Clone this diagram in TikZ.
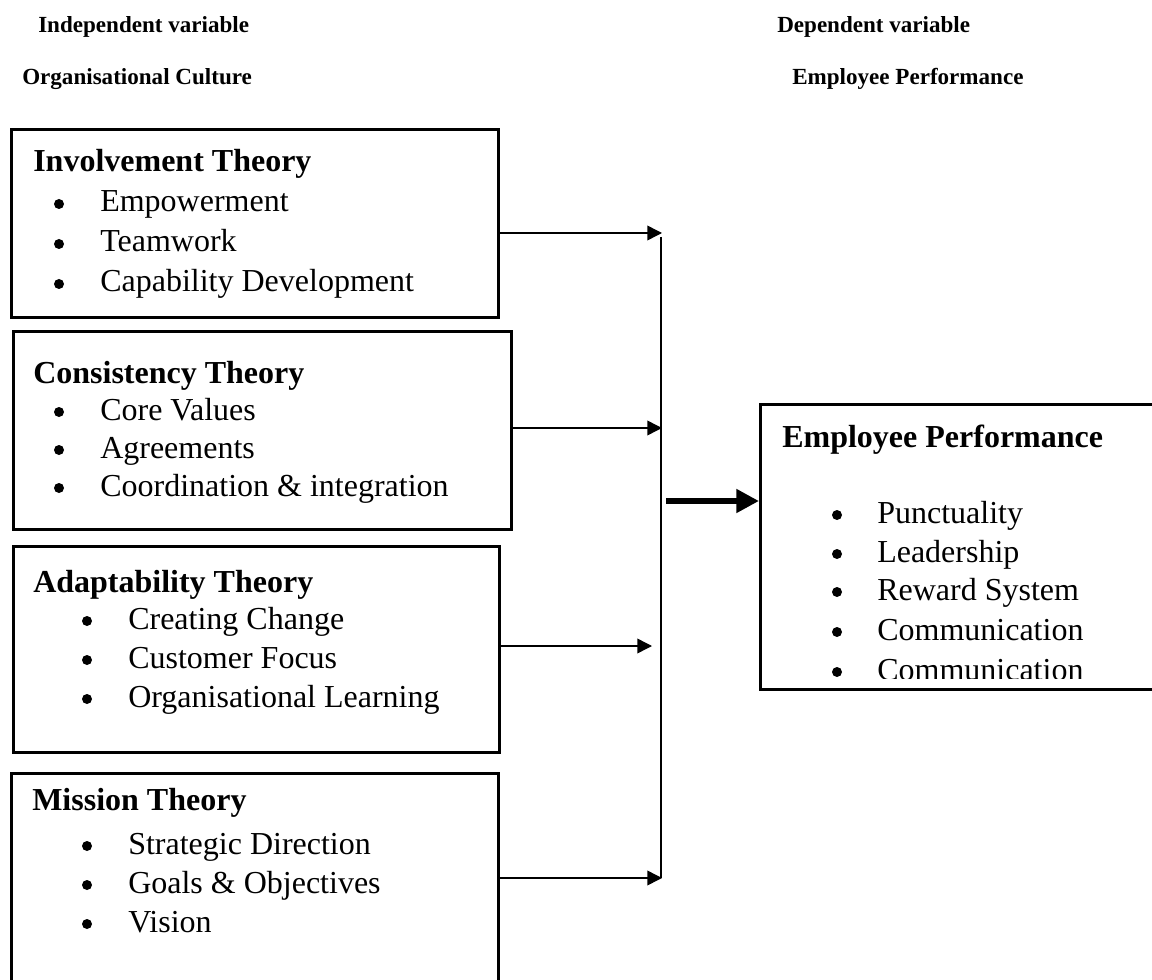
\documentclass[tikz,border=0pt]{standalone}
\usepackage{fontspec}
\setmainfont{Liberation Serif}
\usetikzlibrary{positioning}
\usetikzlibrary{arrows.meta}

\begin{document}
\begin{tikzpicture}
		[x=0.75pt, y=-0.75pt,
		box/.style={draw=black, line width=2.3pt, anchor=north west, inner sep=0pt},
		head/.style={anchor=base west, inner sep=0pt, font=\fontsize{17.3}{20}\selectfont\bfseries},
		title/.style={anchor=base west, inner sep=0pt, font=\fontsize{24}{29}\selectfont\bfseries},
		item/.style={anchor=base west, inner sep=0pt, font=\fontsize{24}{29}\selectfont},
		dot/.style={circle, fill=black, inner sep=0pt, minimum size=7.5pt},
		link/.style={-{Triangle[length=11pt, width=11pt]}, line width=1.1pt},
		bigarrow/.style={-{Triangle[length=17pt, width=17pt]}, line width=5pt}]
		\useasboundingbox (0,0) rectangle (1152,980);
		\clip (0,0) rectangle (1152,980);

		\node[head] (ivar) at (38,33) {Independent variable};
		\node[head] (oc) at (22,85) {Organisational Culture};
		\node[head] (dvar) at (777,33) {Dependent variable};
		\node[head] (ep) at (792,85) {Employee Performance};

		\node[box, minimum width=365.25pt, minimum height=141pt] (inv) at (10,128) {};
		\node[box, minimum width=373.5pt, minimum height=148.5pt] (con) at (12,330) {};
		\node[box, minimum width=364.5pt, minimum height=154.5pt] (ada) at (12,545) {};
		\node[box, minimum width=365.25pt, minimum height=178.5pt] (mis) at (10,772) {};
		\node[box, minimum width=308.25pt, minimum height=213.75pt] (perf) at (759,403) {};

		\node[title] (invt) at (33,172) {Involvement Theory};
		\node[dot] (d11) at (59,204) {};
		\node[item] (i11) at (100,212) {Empowerment};
		\node[dot] (d12) at (59,244) {};
		\node[item] (i12) at (100,252) {Teamwork};
		\node[dot] (d13) at (59,284) {};
		\node[item] (i13) at (100,292) {Capability Development};

		\node[title] (cont) at (33,383) {Consistency Theory};
		\node[dot] (d21) at (59,412) {};
		\node[item] (i21) at (100,420) {Core Values};
		\node[dot] (d22) at (59,450) {};
		\node[item] (i22) at (100,458) {Agreements};
		\node[dot] (d23) at (59,488) {};
		\node[item] (i23) at (100,496) {Coordination \& integration};

		\node[title] (adat) at (33,592) {Adaptability Theory};
		\node[dot] (d31) at (87,621) {};
		\node[item] (i31) at (128,629) {Creating Change};
		\node[dot] (d32) at (87,660) {};
		\node[item] (i32) at (128,668) {Customer Focus};
		\node[dot] (d33) at (87,699) {};
		\node[item] (i33) at (128,707) {Organisational Learning};

		\node[title] (mist) at (32,810) {Mission Theory};
		\node[dot] (d41) at (87,846) {};
		\node[item] (i41) at (128,854) {Strategic Direction};
		\node[dot] (d42) at (87,885) {};
		\node[item] (i42) at (128,893) {Goals \& Objectives};
		\node[dot] (d43) at (87,924) {};
		\node[item] (i43) at (128,932) {Vision};

		\node[title] (perft) at (782,447) {Employee Performance};
		\node[dot] (d51) at (837,515) {};
		\node[item] (i51) at (877,523) {Punctuality};
		\node[dot] (d52) at (837,554) {};
		\node[item] (i52) at (877,562) {Leadership};
		\node[dot] (d53) at (837,592) {};
		\node[item] (i53) at (877,600) {Reward System};
		\node[dot] (d54) at (837,632) {};
		\node[item] (i54) at (877,640) {Communication};
		\node[dot] (d55) at (837,672) {};
		\begin{scope}
			\clip (760,405) rectangle (1152,678);
			\node[item] (i55) at (877,680) {Communication};
		\end{scope}

		\coordinate (j1) at (662,233);
		\coordinate (j2) at (662,428);
		\coordinate (j3) at (652,646);
		\coordinate (j4) at (662,878);
		\coordinate (top) at (661,237);
		\coordinate (out) at (666,501);

		\draw[link] (inv.east |- j1) to (j1);
		\draw[link] (con.east |- j2) to (j2);
		\draw[link] (ada.east |- j3) to (j3);
		\draw[link] (mis.east |- j4) to (j4);
		\draw[line width=1.1pt] (top) to (top |- j4);
		\draw[bigarrow] (out) to (perf.west |- out);
	\end{tikzpicture}
\end{document}
